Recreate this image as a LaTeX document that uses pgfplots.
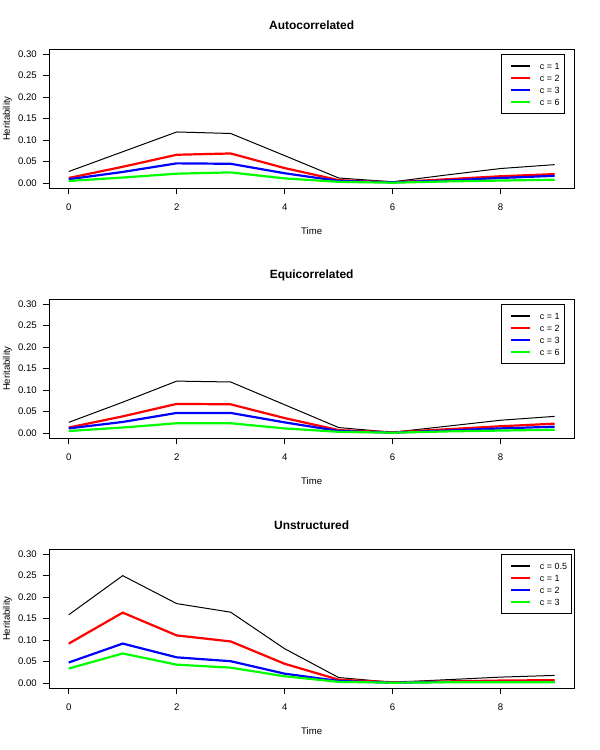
\documentclass[border=0pt]{standalone}
\usepackage{fontspec}
\setmainfont{Liberation Sans}
\usepackage{pgfplots}
\pgfplotsset{compat=1.18}
\definecolor{rred}{RGB}{255,0,0}
\definecolor{rblue}{RGB}{0,0,255}
\definecolor{rgreen}{RGB}{0,255,0}
\pgfplotsset{
  panel/.style={
    scale only axis, width=524.7bp, height=139.3bp,
    xmin=-0.36, xmax=9.36, ymin=-0.012, ymax=0.312,
    xtick={0,2,4,6,8}, ytick={0,0.05,0.1,0.15,0.2,0.25,0.3},
    minor tick num=0,
    tick align=outside, major tick length=6bp,
    xtick pos=left, ytick pos=left,
    axis line style={line width=0.8bp},
    every tick/.style={line width=0.8bp, black},
    tick label style={font=\fontsize{9.6}{11}\selectfont},
    xticklabel style={yshift=-6bp},
    /pgf/number format/assume math mode=true,
    scaled y ticks=false,
    yticklabel style={xshift=-3bp, /pgf/number format/fixed, /pgf/number format/fixed zerofill, /pgf/number format/precision=2},
    xlabel=Time, ylabel=Heritability,
    label style={font=\fontsize{9.6}{11}\selectfont},
    xlabel style={at={(axis description cs:0.5,-0.3044)}, anchor=center},
    ylabel style={at={(axis description cs:-0.0797,0.5)}, anchor=center, rotate=0},
    title style={at={(axis description cs:0.5,1.1723)}, anchor=center, yshift=-6pt, font=\bfseries\fontsize{12}{14}\selectfont},
    legend style={at={(axis cs:8,0.3)}, anchor=north west, draw=black, line width=0.8bp, fill=white,
      inner xsep=4.5bp, inner ysep=8bp, row sep=5.7bp, column sep=8.5bp,
      font=\fontsize{9}{10}\selectfont,
      nodes={inner sep=0pt, text height=6.5bp, text depth=0bp}},
    legend cell align=left,
    legend image code/.code={\path (0bp,0bp); \draw[#1] (4.5bp,0bp) -- (24bp,0bp);},
    thinblack/.style={black, line width=1bp},
    thick/.style={line width=2.2bp},
    legline/.style={line width=2bp},
  }
}
\begin{document}
\begin{tikzpicture}
\useasboundingbox (0,0) rectangle (600bp,750bp);
% Panel 1
\begin{axis}[panel, at={(49.3bp,561.7bp)}, anchor=south west, title={Autocorrelated}]
\addlegendimage{black, legline}\addlegendentry{c = 1}
\addlegendimage{rred, legline}\addlegendentry{c = 2}
\addlegendimage{rblue, legline}\addlegendentry{c = 3}
\addlegendimage{rgreen, legline}\addlegendentry{c = 6}
\addplot[thinblack, forget plot] coordinates {(0,0.027)(1,0.073)(2,0.119)(3,0.1155)(4,0.064)(5,0.012)(6,0.003)(7,0.019)(8,0.034)(9,0.043)};
\addplot[rred, thick, forget plot] coordinates {(0,0.012)(1,0.038)(2,0.066)(3,0.069)(4,0.035)(5,0.007)(6,0.002)(7,0.009)(8,0.016)(9,0.021)};
\addplot[rblue, thick, forget plot] coordinates {(0,0.009)(1,0.026)(2,0.046)(3,0.045)(4,0.023)(5,0.005)(6,0.002)(7,0.006)(8,0.012)(9,0.017)};
\addplot[rgreen, thick, forget plot] coordinates {(0,0.005)(1,0.013)(2,0.022)(3,0.025)(4,0.011)(5,0.003)(6,0.001)(7,0.004)(8,0.006)(9,0.008)};
\end{axis}
% Panel 2
\begin{axis}[panel, at={(49.3bp,311.7bp)}, anchor=south west, title={Equicorrelated}]
\addlegendimage{black, legline}\addlegendentry{c = 1}
\addlegendimage{rred, legline}\addlegendentry{c = 2}
\addlegendimage{rblue, legline}\addlegendentry{c = 3}
\addlegendimage{rgreen, legline}\addlegendentry{c = 6}
\addplot[thinblack, forget plot] coordinates {(0,0.025)(1,0.072)(2,0.121)(3,0.119)(4,0.066)(5,0.013)(6,0.002)(7,0.016)(8,0.030)(9,0.039)};
\addplot[rred, thick, forget plot] coordinates {(0,0.013)(1,0.039)(2,0.068)(3,0.067)(4,0.035)(5,0.007)(6,0.002)(7,0.009)(8,0.016)(9,0.022)};
\addplot[rblue, thick, forget plot] coordinates {(0,0.011)(1,0.026)(2,0.047)(3,0.047)(4,0.025)(5,0.005)(6,0.001)(7,0.006)(8,0.011)(9,0.015)};
\addplot[rgreen, thick, forget plot] coordinates {(0,0.005)(1,0.013)(2,0.023)(3,0.023)(4,0.011)(5,0.003)(6,0.001)(7,0.004)(8,0.006)(9,0.008)};
\end{axis}
% Panel 3
\begin{axis}[panel, at={(49.3bp,61.7bp)}, anchor=south west, title={Unstructured}]
\addlegendimage{black, legline}\addlegendentry{c = 0.5}
\addlegendimage{rred, legline}\addlegendentry{c = 1}
\addlegendimage{rblue, legline}\addlegendentry{c = 2}
\addlegendimage{rgreen, legline}\addlegendentry{c = 3}
\addplot[thinblack, forget plot] coordinates {(0,0.159)(1,0.250)(2,0.185)(3,0.165)(4,0.080)(5,0.013)(6,0.002)(7,0.008)(8,0.014)(9,0.018)};
\addplot[rred, thick, forget plot] coordinates {(0,0.092)(1,0.164)(2,0.111)(3,0.097)(4,0.045)(5,0.008)(6,0.002)(7,0.004)(8,0.006)(9,0.007)};
\addplot[rblue, thick, forget plot] coordinates {(0,0.048)(1,0.092)(2,0.060)(3,0.051)(4,0.022)(5,0.005)(6,0.001)(7,0.003)(8,0.003)(9,0.003)};
\addplot[rgreen, thick, forget plot] coordinates {(0,0.034)(1,0.069)(2,0.043)(3,0.036)(4,0.016)(5,0.003)(6,0.001)(7,0.002)(8,0.002)(9,0.002)};
\end{axis}
\end{tikzpicture}
\end{document}
